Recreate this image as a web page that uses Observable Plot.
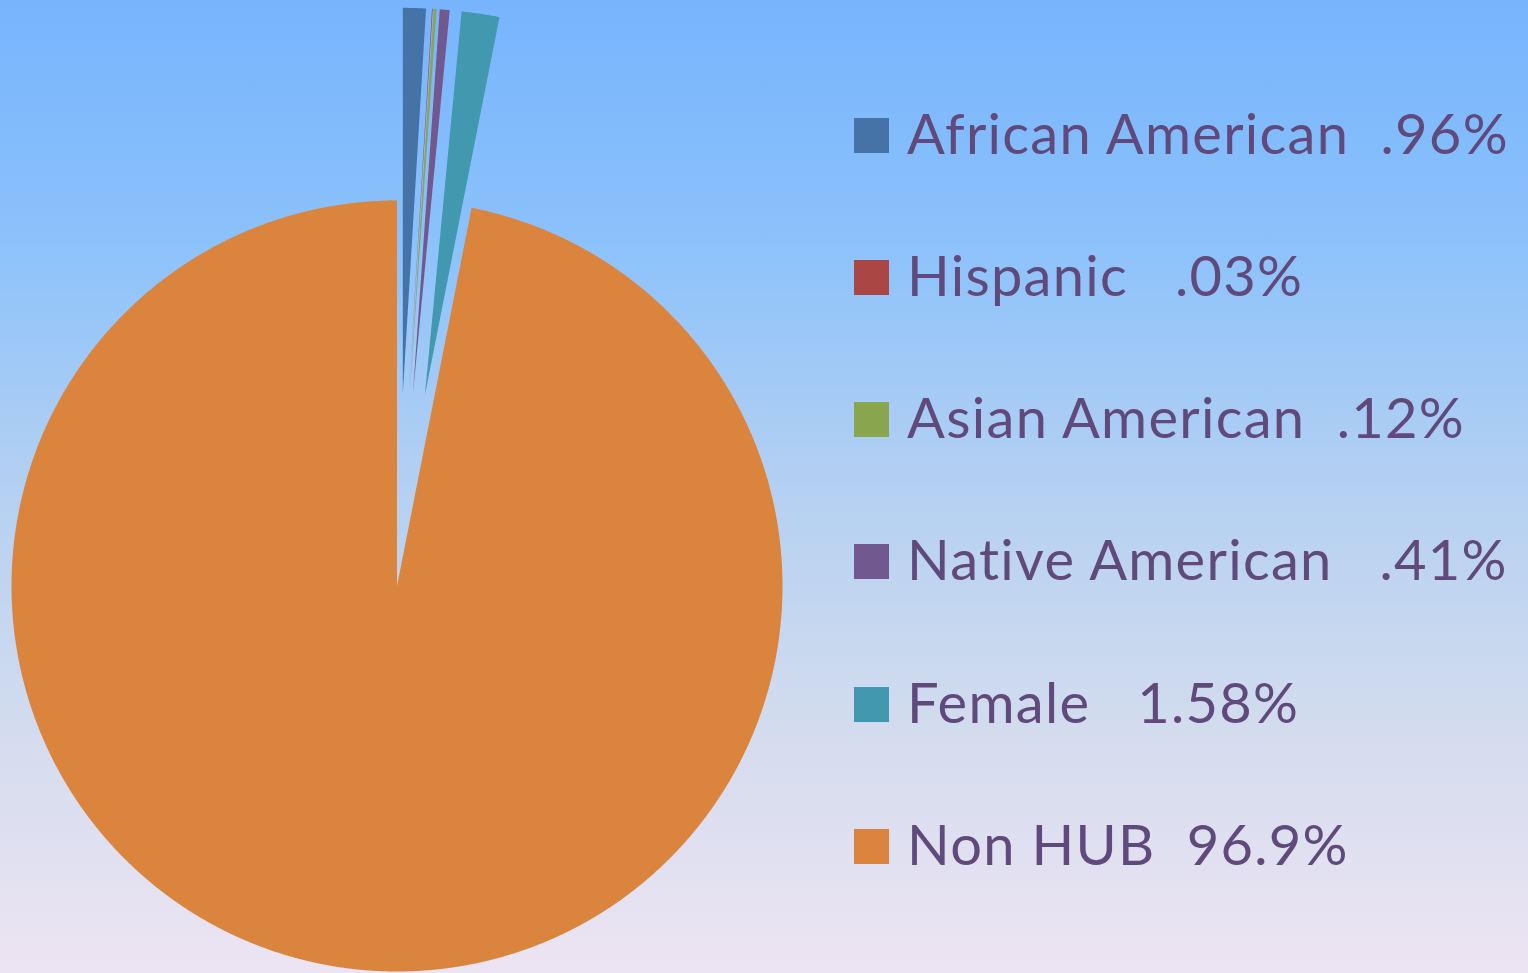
<!DOCTYPE html>
<html>
<head>
<meta charset="utf-8">
<script src="https://cdn.jsdelivr.net/npm/d3@7"></script>
<script src="https://cdn.jsdelivr.net/npm/@observablehq/plot@0.6"></script>
<style>
  html, body { margin: 0; padding: 0; }
  #wrap {
    position: relative; width: 1528px; height: 973px; overflow: hidden;
    background: linear-gradient(to bottom, #77b4fd 0%, #8cc2fb 25%, #b4d0f2 50%, #d3dcee 75%, #ede4f3 100%);
  }
  #chart { position: absolute; left: 0; top: 0; }
  #legend { position: absolute; left: 0; top: 0; width: 1528px; height: 973px; pointer-events: none; }
  .sw { position: absolute; width: 35px; height: 35px; }
  .lb { position: absolute; white-space: pre; font-family: Lato, "Open Sans", sans-serif; font-size: 56px; line-height: 56px; letter-spacing: 1.3px; color: #604a7b; }
</style>
</head>
<body>
<div id="wrap">
  <div id="chart"></div>
  <div id="legend"></div>
</div>
<script>
// ---- data ----
const categories = ["African American", "Hispanic", "Asian American", "Native American", "Female", "Non HUB"];
const values = [0.96, 0.03, 0.12, 0.41, 1.58, 96.9];
const labels = ["African American  .96%", "Hispanic   .03%", "Asian American  .12%", "Native American   .41%", "Female   1.58%", "Non HUB  96.9%"];
const colors = ["#4572a7", "#aa4643", "#89a54e", "#71588f", "#4198af", "#db843d"];
const exploded = [true, true, true, true, true, false];

// ---- layout ----
const W = 1528, H = 973;
const cxPx = 396.5, cyPx = 585.5, R = 385.5;
const explode = 0.5; // fraction of radius

const pie = d3.pie().sort(null).value(d => d.value);
const arcs = pie(categories.map((c, i) => ({category: c, value: values[i], exploded: exploded[i]})));

const pts = [];
for (const a of arcs) {
  const mid = (a.startAngle + a.endAngle) / 2;
  const ox = a.data.exploded ? explode * Math.sin(mid) : 0;
  const oy = a.data.exploded ? explode * Math.cos(mid) : 0;
  pts.push({category: a.data.category, x: ox, y: oy});
  const n = Math.max(4, Math.ceil((a.endAngle - a.startAngle) / 0.002));
  for (let k = 0; k <= n; k++) {
    const t = a.startAngle + (a.endAngle - a.startAngle) * k / n;
    pts.push({category: a.data.category, x: ox + Math.sin(t), y: oy + Math.cos(t)});
  }
  pts.push({category: a.data.category, x: ox, y: oy});
}

const chart = Plot.plot({
  width: W, height: H,
  margin: 0,
  style: {background: "transparent", overflow: "visible"},
  x: {domain: [-cxPx / R, (W - cxPx) / R], axis: null},
  y: {domain: [-(H - cyPx) / R, cyPx / R], axis: null},
  color: {domain: categories, range: colors},
  marks: [
    Plot.line(pts, {x: "x", y: "y", z: "category", fill: "category", stroke: "none", curve: "linear-closed"})
  ]
});
document.getElementById("chart").appendChild(chart);

// ---- legend ----
const leg = document.getElementById("legend");
categories.forEach((c, i) => {
  const top = 117.5 + i * 142.3;
  const sw = document.createElement("div");
  sw.className = "sw";
  sw.style.left = "854px"; sw.style.top = top + "px";
  sw.style.background = colors[i];
  leg.appendChild(sw);
  const lb = document.createElement("div");
  lb.className = "lb";
  lb.style.left = "907px"; lb.style.top = (top - 13) + "px";
  lb.textContent = labels[i];
  leg.appendChild(lb);
});
</script>
</body>
</html>
